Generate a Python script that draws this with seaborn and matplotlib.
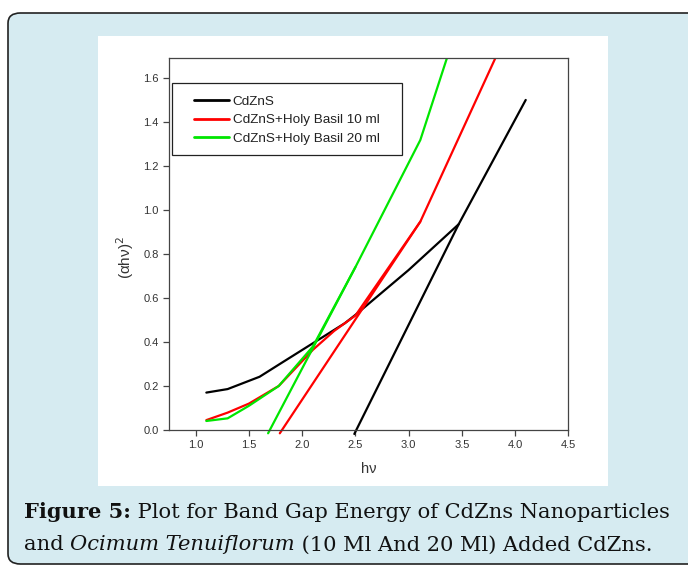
import numpy as np
import pandas as pd
import matplotlib
matplotlib.use("Agg")
import matplotlib.pyplot as plt
from matplotlib.patches import FancyBboxPatch, Rectangle
import seaborn as sns

# ---------------- data ----------------
cdzns_x = [1.10, 1.30, 1.60, 1.80, 2.10, 2.40, 2.50, 3.00, 3.47, 4.10]
cdzns_y = [0.170, 0.186, 0.242, 0.303, 0.394, 0.485, 0.523, 0.727, 0.935, 1.500]
cdzns_fit_x = [2.49, 3.47]
cdzns_fit_y = [-0.018, 0.935]

basil10_x = [1.10, 1.30, 1.50, 1.78, 2.10, 2.30, 2.50, 3.11, 3.90]
basil10_y = [0.045, 0.079, 0.120, 0.200, 0.364, 0.450, 0.520, 0.947, 1.780]
basil10_fit_x = [1.79, 3.11]
basil10_fit_y = [-0.015, 0.947]

basil20_x = [1.10, 1.30, 1.50, 1.78, 2.10, 2.50, 3.11, 3.40]
basil20_y = [0.041, 0.053, 0.110, 0.200, 0.379, 0.740, 1.318, 1.750]
basil20_fit_x = [1.68, 2.50]
basil20_fit_y = [-0.015, 0.740]

series_names = ["CdZnS", "CdZnS+Holy Basil 10 ml", "CdZnS+Holy Basil 20 ml"]
series_colors = ["#000000", "#ff0000", "#00e600"]

x_ticks = [1.0, 1.5, 2.0, 2.5, 3.0, 3.5, 4.0, 4.5]
y_ticks = [0.0, 0.2, 0.4, 0.6, 0.8, 1.0, 1.2, 1.4, 1.6]

caption_bold = "Figure 5:"
caption_rest1 = " Plot for Band Gap Energy of CdZns Nanoparticles"
caption_l2a = "and "
caption_l2b = "Ocimum Tenuiflorum"
caption_l2c = " (10 Ml And 20 Ml) Added CdZns."

# ---------------- figure ----------------
sns.set_style("ticks")
plt.rcParams["font.family"] = ["Liberation Sans", "DejaVu Sans"]

W, H = 688, 566
fig = plt.figure(figsize=(W / 100, H / 100), dpi=100)
fig.patch.set_facecolor("white")


def fx(x):
    return x / W


def fy(y):
    return 1 - y / H


# light-blue rounded panel
panel = FancyBboxPatch((fx(8), fy(564)), fx(720) - fx(8), fy(13) - fy(564),
                       boxstyle="round,pad=0,rounding_size=0.018",
                       transform=fig.transFigure, facecolor="#d6ebf1",
                       edgecolor="#222222", linewidth=1.2, zorder=0)
fig.patches.append(panel)
# white chart area
white = Rectangle((fx(98), fy(486)), fx(608) - fx(98), fy(36) - fy(486),
                  transform=fig.transFigure, facecolor="white",
                  edgecolor="none", zorder=1)
fig.patches.append(white)

ax_l, ax_r, ax_t, ax_b = 169.3, 568.3, 57.7, 430.0
ax = fig.add_axes([fx(ax_l), fy(ax_b), fx(ax_r) - fx(ax_l), fy(ax_t) - fy(ax_b)])
ax.set_facecolor("white")
ax.set_zorder(2)


def axx(px):
    return (px - ax_l) / (ax_r - ax_l)


def axy(py):
    return (ax_b - py) / (ax_b - ax_t)


lw = 1.6
groups = [
    (cdzns_x, cdzns_y, cdzns_fit_x, cdzns_fit_y),
    (basil10_x, basil10_y, basil10_fit_x, basil10_fit_y),
    (basil20_x, basil20_y, basil20_fit_x, basil20_fit_y),
]
for (cx, cy, tx, ty), name, col in zip(groups, series_names, series_colors):
    df = pd.DataFrame({"x": cx, "y": cy})
    sns.lineplot(data=df, x="x", y="y", sort=False, color=col, linewidth=lw,
                 ax=ax, label=name)
    dft = pd.DataFrame({"x": tx, "y": ty})
    sns.lineplot(data=dft, x="x", y="y", sort=False, color=col, linewidth=lw,
                 ax=ax, legend=False)
    ax.lines[-1].set_clip_on(False)

ax.set_xlim(0.752, 4.5)
ax.set_ylim(0.0, 1.692)
ax.set_xticks(x_ticks)
ax.set_xticklabels([f"{v:.1f}" for v in x_ticks])
ax.set_yticks(y_ticks)
ax.set_yticklabels([f"{v:.1f}" for v in y_ticks])
ax.tick_params(direction="out", length=4.5, width=0.9, color="#444444",
               labelsize=8, labelcolor="#333333", pad=3)
for s in ax.spines.values():
    s.set_visible(True)
    s.set_color("#444444")
    s.set_linewidth(0.9)

ax.set_xlabel("hν", fontsize=10.5, color="#333333", labelpad=8)
ax.set_ylabel(r"(αhν)$^2$", fontsize=11, color="#333333")
ax.yaxis.set_label_coords(axx(136), axy(258))

# legend: frameless text + separate box
leg = ax.legend(loc="upper left", bbox_to_anchor=(axx(194.3), axy(95.5)),
                frameon=False, fontsize=9.7,
                handlelength=2.6, handletextpad=0.25, borderpad=0,
                labelspacing=0.45, borderaxespad=0)
for t in leg.get_texts():
    t.set_color("#222222")
for h in leg.get_lines():
    h.set_linewidth(2.0)
box = Rectangle((axx(171.7), axy(155)), axx(402.3) - axx(171.7),
                axy(83.3) - axy(155), transform=ax.transAxes,
                facecolor="white", edgecolor="#222222", linewidth=0.9,
                zorder=4)
ax.add_patch(box)
leg.set_zorder(5)

# ---------------- caption ----------------
renderer = fig.canvas.get_renderer()
cap_family = ["DejaVu Serif"]


def place_pieces(pieces, x0, ybase, size):
    x = x0
    objs = []
    for txt, weight, style in pieces:
        t = fig.text(fx(x), fy(ybase), txt, fontsize=size, family=cap_family,
                     fontweight=weight, fontstyle=style, color="#111111",
                     ha="left", va="baseline", zorder=5)
        bb = t.get_window_extent(renderer=renderer)
        x += bb.width
        objs.append(t)
    return x, objs


line1 = [(caption_bold, "bold", "normal"), (caption_rest1, "normal", "normal")]
line2 = [(caption_l2a, "normal", "normal"), (caption_l2b, "normal", "italic"),
         (caption_l2c, "normal", "normal")]

size = 14.0
end, objs = place_pieces(line1, 24, 518.5, size)
for o in objs:
    o.remove()
size = size * (672.5 - 24) / (end - 24)
place_pieces(line1, 24, 518.5, size)
place_pieces(line2, 24, 550.5, size)

fig.savefig("out.png", dpi=100, facecolor=fig.get_facecolor())
